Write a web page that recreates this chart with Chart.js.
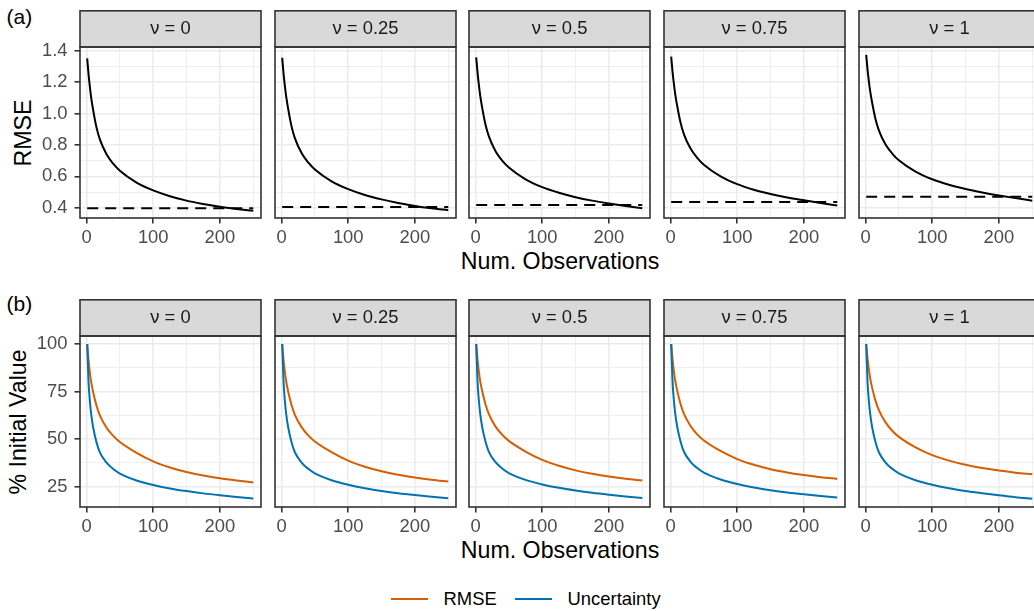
<!DOCTYPE html>
<html>
<head>
<meta charset="utf-8">
<script src="https://cdn.jsdelivr.net/npm/chart.js@4/dist/chart.umd.min.js"></script>
<style>
  html, body { margin: 0; padding: 0; background: #ffffff; }
  body { width: 1034px; height: 611px; overflow: hidden; position: relative;
         font-family: "Liberation Sans", Arial, Helvetica, sans-serif; }
  canvas { position: absolute; }
  .txt { position: absolute; white-space: nowrap; color: #000000; }
  .tag { font-size: 21px; line-height: 21px; }
  .ytitle { font-size: 23.2px; line-height: 23.2px; transform: translate(-50%, -50%) rotate(-90deg); }
  .xtitle { font-size: 23.2px; line-height: 23.2px; transform: translateX(-50%); }
  .legtxt { font-size: 18.4px; line-height: 18.4px; }
  .key { position: absolute; height: 2px; width: 37px; }
</style>
</head>
<body>

<div class="txt tag" style="left:6.5px; top:5.9px;">(a)</div>
<div class="txt tag" style="left:6.5px; top:293.2px;">(b)</div>
<div class="txt ytitle" style="left:23.7px; top:132.5px;">RMSE</div>
<div class="txt ytitle" style="left:18.8px; top:421.5px;">% Initial Value</div>
<div class="txt xtitle" style="left:560px; top:250.1px;">Num. Observations</div>
<div class="txt xtitle" style="left:560px; top:539.1px;">Num. Observations</div>

<div class="key" style="left:391px; top:598.3px; background:#D55E00;"></div>
<div class="txt legtxt" id="legRmse" style="left:443.6px; top:590.4px;"></div>
<div class="key" style="left:515px; top:598.3px; background:#0072B2;"></div>
<div class="txt legtxt" id="legUnc" style="left:567.6px; top:590.4px;"></div>

<script>
// ---- data -------------------------------------------------------------
const nuLevels = ['0', '0.25', '0.5', '0.75', '1'];
const obsCounts = [1, 3, 5, 7, 10, 15, 20, 30, 40, 50, 75, 100, 125, 150, 175, 200, 225, 250];

// RMSE of the estimate vs. number of observations, one series per nu
const rmseNu0   = [1.351, 1.250, 1.170, 1.100, 1.020, 0.910, 0.835, 0.740, 0.680, 0.635, 0.560, 0.510, 0.473, 0.445, 0.424, 0.406, 0.392, 0.380];
const rmseNu025 = [1.355, 1.255, 1.176, 1.107, 1.028, 0.918, 0.843, 0.748, 0.688, 0.643, 0.568, 0.518, 0.481, 0.453, 0.430, 0.411, 0.396, 0.384];
const rmseNu05  = [1.358, 1.260, 1.182, 1.114, 1.036, 0.928, 0.854, 0.760, 0.700, 0.656, 0.581, 0.531, 0.495, 0.467, 0.445, 0.427, 0.411, 0.397];
const rmseNu075 = [1.362, 1.266, 1.190, 1.124, 1.048, 0.942, 0.869, 0.777, 0.718, 0.674, 0.600, 0.550, 0.514, 0.487, 0.465, 0.447, 0.430, 0.414];
const rmseNu1   = [1.373, 1.280, 1.205, 1.141, 1.067, 0.964, 0.893, 0.803, 0.745, 0.702, 0.630, 0.581, 0.546, 0.519, 0.497, 0.478, 0.461, 0.445];
// reference RMSE level (dashed) for each nu
const rmseFloor = [0.397, 0.404, 0.417, 0.437, 0.469];

// RMSE as % of its initial value
const pctRmseNu0   = [100, 91.5, 85.0, 80.0, 74.5, 67.5, 62.5, 56.0, 51.7, 48.5, 42.8, 38.3, 35.1, 32.7, 30.9, 29.5, 28.3, 27.2];
const pctRmseNu025 = [100, 91.7, 85.3, 80.3, 74.9, 67.9, 62.8, 56.3, 52.0, 48.8, 43.2, 38.7, 35.5, 33.1, 31.3, 29.9, 28.7, 27.7];
const pctRmseNu05  = [100, 91.8, 85.5, 80.5, 75.2, 68.2, 63.1, 56.6, 52.3, 49.1, 43.5, 39.1, 36.0, 33.6, 31.8, 30.4, 29.2, 28.3];
const pctRmseNu075 = [100, 92.0, 85.8, 80.8, 75.5, 68.5, 63.4, 56.9, 52.5, 49.3, 43.8, 39.5, 36.5, 34.2, 32.5, 31.1, 30.0, 29.1];
const pctRmseNu1   = [100, 92.4, 86.6, 81.9, 76.8, 70.1, 65.2, 58.8, 54.4, 51.2, 45.7, 41.6, 38.7, 36.5, 34.8, 33.5, 32.4, 31.5];

// posterior uncertainty as % of its initial value
const pctUncNu0   = [100, 80.0, 70.0, 63.0, 56.0, 48.3, 43.0, 37.6, 34.3, 31.9, 28.3, 25.9, 24.1, 22.7, 21.5, 20.5, 19.6, 18.8];
const pctUncNu025 = [100, 80.1, 70.1, 63.1, 56.1, 48.4, 43.1, 37.7, 34.4, 32.0, 28.4, 26.0, 24.2, 22.8, 21.6, 20.6, 19.7, 18.9];
const pctUncNu05  = [100, 80.2, 70.3, 63.3, 56.3, 48.6, 43.3, 37.9, 34.6, 32.2, 28.6, 26.2, 24.4, 23.0, 21.8, 20.8, 19.9, 19.1];
const pctUncNu075 = [100, 80.3, 70.4, 63.5, 56.5, 48.8, 43.5, 38.1, 34.8, 32.4, 28.8, 26.4, 24.6, 23.2, 22.0, 21.0, 20.1, 19.3];
const pctUncNu1   = [100, 80.0, 70.1, 63.1, 56.1, 48.4, 43.1, 37.7, 34.4, 32.0, 28.4, 26.0, 24.2, 22.8, 21.6, 20.5, 19.5, 18.7];

// tick values
const xMajorTicks = [0, 100, 200];
const xMinorTicks = [50, 150, 250];
const rmseMajorTicks = [0.4, 0.6, 0.8, 1.0, 1.2, 1.4];
const rmseMinorTicks = [0.5, 0.7, 0.9, 1.1, 1.3];
const pctMajorTicks = [25, 50, 75, 100];
const pctMinorTicks = [37.5, 62.5, 87.5];

const seriesNames = ['RMSE', 'Uncertainty'];

// ---- layout & style ---------------------------------------------------
const FONT = '"Liberation Sans", Arial, Helvetica, sans-serif';
const ORANGE = '#D55E00', BLUE = '#0072B2';
const GRID = '#EBEBEB', FRAME = '#333333', TICK_TXT = '#4D4D4D';
const SMALL_TXT = 18.4;
const PANEL_W = 181, COL_LEFT = [80, 275, 469, 664, 859];
const STRIP_H = 37, X_AXIS_H = 40, Y_AXIS_W = 80, EDGE = 2;
const X_MIN = -9.8, X_MAX = 261.6;

document.getElementById('legRmse').textContent = seriesNames[0];
document.getElementById('legUnc').textContent = seriesNames[1];

const pts = vals => obsCounts.map((x, i) => ({ x, y: vals[i] }));
const near = (list, v) => list.some(t => Math.abs(t - v) < 1e-6);

// facet strip above each panel and the dark panel frame
const panelFrame = {
  id: 'panelFrame',
  afterDraw(chart, args, opts) {
    const { ctx, chartArea: { left, top, right, bottom } } = chart;
    ctx.save();
    ctx.fillStyle = '#D9D9D9';
    ctx.fillRect(left, 0.8, right - left, top - 0.8);
    ctx.strokeStyle = FRAME;
    ctx.lineWidth = 1.6;
    ctx.strokeRect(left, 0.8, right - left, top - 0.8);
    ctx.strokeRect(left, top, right - left, bottom - top);
    ctx.fillStyle = '#1A1A1A';
    ctx.font = SMALL_TXT + 'px ' + FONT;
    ctx.textAlign = 'center';
    ctx.textBaseline = 'middle';
    ctx.fillText(opts.label, (left + right) / 2, top / 2 + 0.6);
    ctx.restore();
  }
};

function makePanel(row, col, datasets) {
  const first = col === 0;
  const canvas = document.createElement('canvas');
  const left = first ? COL_LEFT[0] - Y_AXIS_W : COL_LEFT[col] - EDGE;
  const width = (first ? Y_AXIS_W : EDGE) + PANEL_W + 2;
  const height = row.panelBottom - row.stripTop + X_AXIS_H;
  canvas.width = width; canvas.height = height;
  canvas.style.left = left + 'px'; canvas.style.top = row.stripTop + 'px';
  canvas.style.width = width + 'px'; canvas.style.height = height + 'px';
  document.body.appendChild(canvas);

  const yTicks = row.yMajor.concat(row.yMinor).sort((a, b) => a - b);
  const xTicks = xMajorTicks.concat(xMinorTicks).sort((a, b) => a - b);

  new Chart(canvas, {
    type: 'line',
    data: { datasets },
    options: {
      responsive: false,
      animation: false,
      devicePixelRatio: 1,
      layout: { padding: { top: STRIP_H, left: first ? 0 : EDGE, right: 2, bottom: 0 } },
      elements: {
        point: { radius: 0 },
        line: { borderWidth: 2, cubicInterpolationMode: 'monotone', fill: false }
      },
      plugins: {
        legend: { display: false },
        tooltip: { enabled: false },
        panelFrame: { label: 'ν = ' + nuLevels[col] }
      },
      scales: {
        x: {
          type: 'linear', min: X_MIN, max: X_MAX,
          afterBuildTicks: s => { s.ticks = xTicks.map(v => ({ value: v })); },
          afterFit: s => { s.height = X_AXIS_H; },
          border: { display: false },
          grid: {
            color: GRID,
            lineWidth: c => near(xMajorTicks, c.tick.value) ? 1.6 : 0.8,
            drawTicks: true, tickLength: 5.5, tickWidth: 1.6,
            tickColor: c => near(xMajorTicks, c.tick.value) ? FRAME : 'rgba(0,0,0,0)'
          },
          ticks: {
            autoSkip: false, maxRotation: 0, minRotation: 0, padding: 3,
            color: TICK_TXT, font: { family: FONT, size: SMALL_TXT },
            callback: v => near(xMajorTicks, v) ? String(v) : ''
          }
        },
        y: {
          type: 'linear', min: row.yMin, max: row.yMax,
          afterBuildTicks: s => { s.ticks = yTicks.map(v => ({ value: v })); },
          afterFit: s => { s.width = first ? Y_AXIS_W : 0; },
          border: { display: false },
          grid: {
            color: GRID,
            lineWidth: c => near(row.yMajor, c.tick.value) ? 1.6 : 0.8,
            drawTicks: first, tickLength: 5.5, tickWidth: 1.6,
            tickColor: c => near(row.yMajor, c.tick.value) ? FRAME : 'rgba(0,0,0,0)'
          },
          ticks: {
            display: first, autoSkip: false, padding: 7,
            color: TICK_TXT, font: { family: FONT, size: SMALL_TXT },
            callback: v => near(row.yMajor, v) ? row.fmt(v) : ''
          }
        }
      }
    },
    plugins: [panelFrame]
  });
}

const rowA = { stripTop: 10, panelBottom: 218, yMin: 0.3344, yMax: 1.4236,
               yMajor: rmseMajorTicks, yMinor: rmseMinorTicks, fmt: v => v.toFixed(1) };
const rowB = { stripTop: 299, panelBottom: 507, yMin: 14.34, yMax: 104.2,
               yMajor: pctMajorTicks, yMinor: pctMinorTicks, fmt: v => String(v) };

const rmseSeries = [rmseNu0, rmseNu025, rmseNu05, rmseNu075, rmseNu1];
const pctRmseSeries = [pctRmseNu0, pctRmseNu025, pctRmseNu05, pctRmseNu075, pctRmseNu1];
const pctUncSeries = [pctUncNu0, pctUncNu025, pctUncNu05, pctUncNu075, pctUncNu1];

for (let c = 0; c < nuLevels.length; c++) {
  makePanel(rowA, c, [
    { label: seriesNames[0], data: pts(rmseSeries[c]), borderColor: '#000000', order: 1 },
    { label: 'floor', data: [{ x: obsCounts[0], y: rmseFloor[c] }, { x: obsCounts[obsCounts.length - 1], y: rmseFloor[c] }],
      borderColor: '#000000', borderDash: [11, 7], order: 0 }
  ]);
  makePanel(rowB, c, [
    { label: seriesNames[0], data: pts(pctRmseSeries[c]), borderColor: ORANGE, order: 1 },
    { label: seriesNames[1], data: pts(pctUncSeries[c]), borderColor: BLUE, order: 0 }
  ]);
}
</script>
</body>
</html>
